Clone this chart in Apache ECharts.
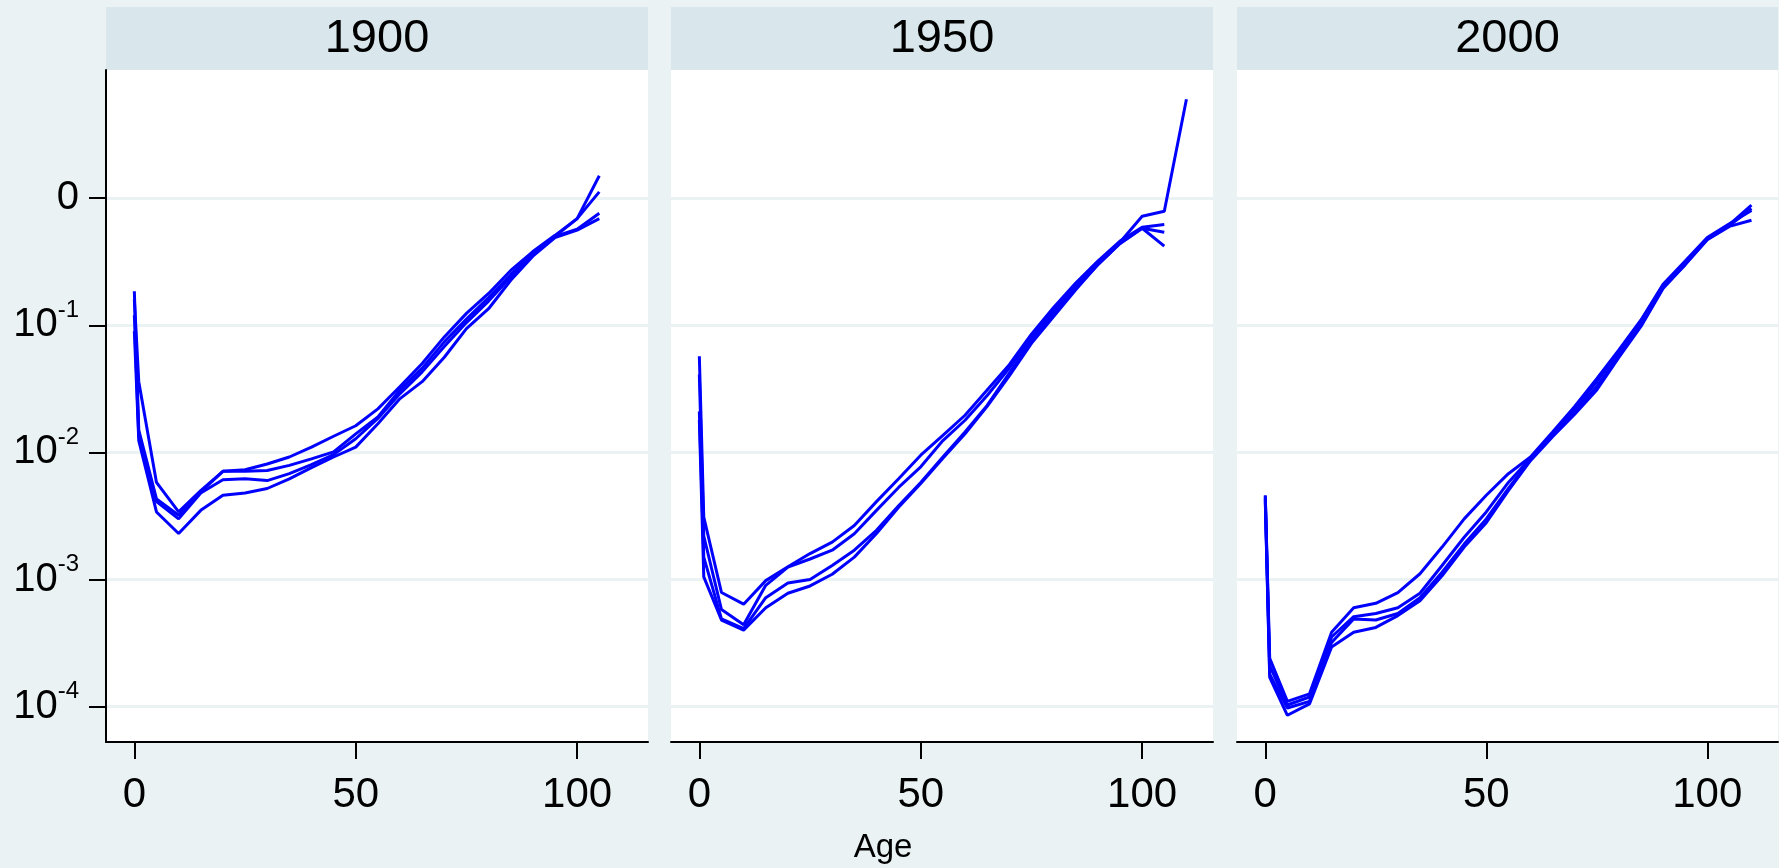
<!DOCTYPE html>
<html>
<head>
<meta charset="utf-8">
<script src="https://cdn.jsdelivr.net/npm/echarts@6/dist/echarts.min.js"></script>
<style>
  html, body { margin: 0; padding: 0; background: #eaf2f3; }
  #chart { width: 1779px; height: 868px; }
</style>
</head>
<body>
<div id="chart"></div>
<script>
// age groups
var ages105 = [0, 1, 5, 10, 15, 20, 25, 30, 35, 40, 45, 50, 55, 60, 65, 70, 75, 80, 85, 90, 95, 100, 105];
var ages110 = [0, 1, 5, 10, 15, 20, 25, 30, 35, 40, 45, 50, 55, 60, 65, 70, 75, 80, 85, 90, 95, 100, 105, 110];

// death rates, 4 curves per panel
var m1900a = [0.16, 0.036, 0.0058, 0.0034, 0.005, 0.0071, 0.0073, 0.0081, 0.0092, 0.011, 0.0134, 0.0162, 0.022, 0.033, 0.050, 0.081, 0.124, 0.178, 0.27, 0.38, 0.51, 0.69, 1.5];
var m1900b = [0.185, 0.015, 0.0043, 0.0032, 0.0049, 0.0071, 0.0071, 0.0072, 0.0079, 0.0089, 0.0101, 0.014, 0.019, 0.031, 0.046, 0.074, 0.112, 0.165, 0.25, 0.37, 0.50, 0.57, 0.76];
var m1900c = [0.12, 0.0135, 0.0041, 0.0030, 0.0048, 0.0061, 0.0062, 0.0060, 0.0068, 0.0080, 0.0096, 0.0128, 0.0185, 0.029, 0.043, 0.068, 0.105, 0.155, 0.24, 0.36, 0.50, 0.69, 1.12];
var m1900d = [0.09, 0.0124, 0.0034, 0.0023, 0.0035, 0.0046, 0.0048, 0.0052, 0.0062, 0.0076, 0.0092, 0.011, 0.0168, 0.0265, 0.036, 0.056, 0.094, 0.135, 0.226, 0.35, 0.49, 0.56, 0.69];

var m1950a = [0.057, 0.0031, 0.00079, 0.00064, 0.00098, 0.00126, 0.0016, 0.00197, 0.00266, 0.0041, 0.0062, 0.0095, 0.0136, 0.0196, 0.031, 0.049, 0.085, 0.138, 0.215, 0.32, 0.46, 0.59, 0.62];
var m1950b = [0.041, 0.0022, 0.00058, 0.00044, 0.0009, 0.00125, 0.00145, 0.0017, 0.00229, 0.0035, 0.0053, 0.0077, 0.0124, 0.0179, 0.028, 0.046, 0.080, 0.130, 0.205, 0.31, 0.45, 0.72, 0.79, 6.0];
var m1950c = [0.021, 0.0015, 0.00049, 0.00041, 0.00072, 0.00094, 0.001, 0.00129, 0.0017, 0.00244, 0.0038, 0.0058, 0.0092, 0.0145, 0.0234, 0.042, 0.075, 0.122, 0.195, 0.30, 0.44, 0.58, 0.54];
var m1950d = [0.018, 0.00105, 0.00048, 0.0004, 0.0006, 0.00078, 0.00089, 0.0011, 0.0015, 0.0023, 0.0037, 0.0057, 0.009, 0.014, 0.023, 0.040, 0.072, 0.117, 0.19, 0.30, 0.44, 0.58, 0.42];

var m2000a = [0.0046, 0.00024, 0.000110, 0.000126, 0.000385, 0.0006, 0.00065, 0.00079, 0.00111, 0.0018, 0.003, 0.0046, 0.0068, 0.0092, 0.0145, 0.023, 0.038, 0.064, 0.11, 0.21, 0.32, 0.49, 0.63, 0.80];
var m2000b = [0.0045, 0.00021, 0.000103, 0.000119, 0.000353, 0.00051, 0.00054, 0.0006, 0.00078, 0.00129, 0.00215, 0.0034, 0.0058, 0.009, 0.014, 0.022, 0.036, 0.062, 0.108, 0.205, 0.31, 0.48, 0.62, 0.88];
var m2000c = [0.0043, 0.00018, 0.0000975, 0.00011, 0.00032, 0.00049, 0.00048, 0.00054, 0.00072, 0.00114, 0.0019, 0.003, 0.0052, 0.0088, 0.0138, 0.021, 0.033, 0.058, 0.102, 0.20, 0.30, 0.475, 0.61, 0.83];
var m2000d = [0.0041, 0.00017, 0.0000855, 0.000105, 0.000295, 0.000385, 0.00042, 0.00052, 0.00068, 0.00107, 0.0018, 0.0028, 0.005, 0.0086, 0.0133, 0.020, 0.031, 0.056, 0.098, 0.195, 0.30, 0.47, 0.60, 0.67];

var years = ['1900', '1950', '2000'];
var xTicks = [0, 50, 100];
var yTicks = [0.0001, 0.001, 0.01, 0.1, 1];

var panels = [
    [[ages105, m1900a], [ages105, m1900b], [ages105, m1900c], [ages105, m1900d]],
    [[ages105, m1950a], [ages110, m1950b], [ages105, m1950c], [ages105, m1950d]],
    [[ages110, m2000a], [ages110, m2000b], [ages110, m2000c], [ages110, m2000d]]
];

var font = 'Liberation Sans, Arial, sans-serif';
var gridLeft = [106, 671, 1237];
var gridWidth = [542, 542, 541];
var gridTop = 70, gridHeight = 672;

var chart = echarts.init(document.getElementById('chart'));

var grids = [], xAxes = [], yAxes = [], series = [], graphics = [];

for (var i = 0; i < 3; i++) {
    grids.push({
        left: gridLeft[i], top: gridTop, width: gridWidth[i], height: gridHeight,
        show: true, backgroundColor: '#ffffff', borderWidth: 0
    });

    xAxes.push({
        type: 'value', gridIndex: i, min: -6.4, max: 116,
        axisLine: { show: true, onZero: false, lineStyle: { color: '#000', width: 2 } },
        axisTick: { show: true, length: 17, customValues: xTicks, lineStyle: { color: '#000', width: 2 } },
        axisLabel: { customValues: xTicks, margin: 32, fontSize: 42, color: '#000', fontFamily: font },
        splitLine: { show: false }
    });

    yAxes.push({
        type: 'log', logBase: 10, gridIndex: i,
        min: 5.27e-5, max: 10.19,
        axisLine: { show: i === 0, onZero: false, lineStyle: { color: '#000', width: 2 } },
        axisTick: { show: i === 0, length: 17, customValues: yTicks, lineStyle: { color: '#000', width: 2 } },
        axisLabel: {
            show: i === 0, customValues: yTicks, margin: 27, color: '#000',
            formatter: function (v) {
                var p = Math.round(Math.log10(v));
                if (p === 0) return '{b|0}';
                return '{b|10}{s|' + p + '}';
            },
            rich: {
                b: { fontSize: 40, lineHeight: 54, fontFamily: font, color: '#000' },
                s: { fontSize: 24, lineHeight: 24, verticalAlign: 'top', fontFamily: font, color: '#000' }
            }
        },
        splitLine: { show: true, lineStyle: { color: '#eaf2f3', width: 3 } }
    });

    panels[i].forEach(function (curve) {
        var xs = curve[0], ys = curve[1];
        series.push({
            type: 'line', xAxisIndex: i, yAxisIndex: i,
            data: xs.map(function (a, k) { return [a, ys[k]]; }),
            showSymbol: false, silent: true,
            lineStyle: { color: '#0000ff', width: 3 },
            itemStyle: { color: '#0000ff' }
        });
    });

    // panel header
    graphics.push({
        type: 'rect', shape: { x: gridLeft[i], y: 7, width: gridWidth[i], height: 63 },
        style: { fill: '#d9e6eb' }, silent: true
    });
    graphics.push({
        type: 'text', x: gridLeft[i] + gridWidth[i] / 2, y: 39,
        style: {
            text: years[i], fontSize: 47, fontFamily: font, fill: '#000',
            align: 'center', verticalAlign: 'middle',
            textAlign: 'center', textVerticalAlign: 'middle'
        },
        silent: true
    });
}

graphics.push({
    type: 'text', x: 883, y: 848,
    style: {
        text: 'Age', fontSize: 33, fontFamily: font, fill: '#000',
        align: 'center', verticalAlign: 'middle',
        textAlign: 'center', textVerticalAlign: 'middle'
    },
    silent: true
});

chart.setOption({
    backgroundColor: '#eaf2f3',
    animation: false,
    grid: grids,
    xAxis: xAxes,
    yAxis: yAxes,
    series: series,
    graphic: graphics
});
</script>
</body>
</html>
